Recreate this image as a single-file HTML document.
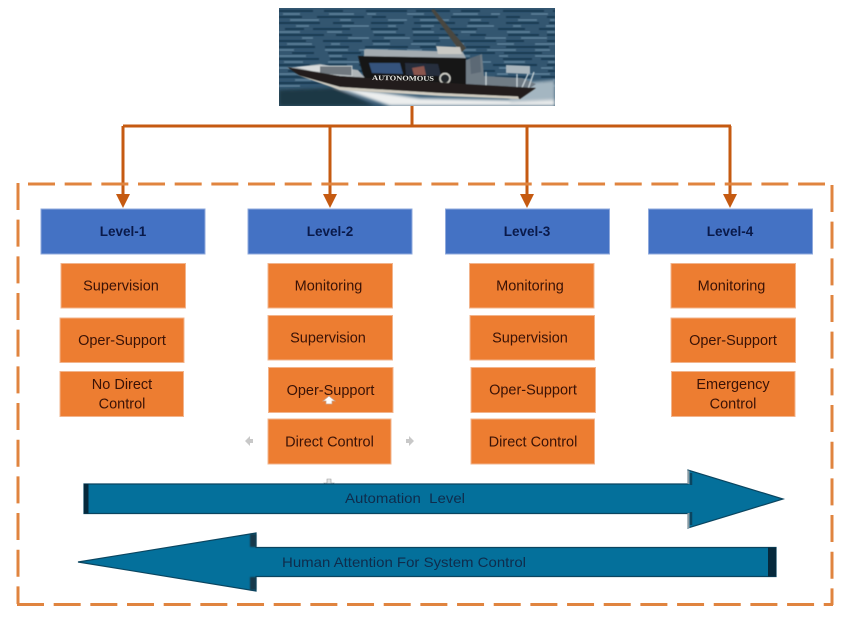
<!DOCTYPE html>
<html>
<head>
<meta charset="utf-8">
<style>
html,body{margin:0;padding:0;background:#fff;width:861px;height:622px;overflow:hidden}
svg{display:block;filter:blur(0.3px)}
text{font-family:"Liberation Sans",sans-serif}
.b{fill:#4472c4;stroke:#8fa9dc;stroke-width:1}
.o{fill:#ed7d31;stroke:#f2b48c;stroke-width:1}
.bt{font-size:13.5px;font-weight:bold;fill:#0a1a4a;text-anchor:middle}
.ot{font-size:14.5px;fill:#3a1206;text-anchor:middle}
.at{font-size:14px;fill:#0f2c4c}
.d{fill:none;stroke:#e0843f;stroke-width:3;stroke-dasharray:27 9.67}
.c{fill:none;stroke:#c55a11;stroke-width:3}
.h{fill:#c55a11}
.wd{fill:none;stroke:#15304a;stroke-width:1.500}
.wl{fill:none;stroke:#6a8ba2;stroke-width:1.200}
</style>
</head>
<body>
<svg width="861" height="622" viewBox="0 0 861 622" xmlns="http://www.w3.org/2000/svg">
<defs>
<filter id="bl" x="-5%" y="-5%" width="110%" height="110%"><feGaussianBlur stdDeviation="0.6"/></filter>
<filter id="bl1" x="-5%" y="-5%" width="110%" height="110%"><feGaussianBlur stdDeviation="0.5"/></filter>
<filter id="bl2" x="-10%" y="-10%" width="120%" height="120%"><feGaussianBlur stdDeviation="1.6"/></filter>
<filter id="bl3" x="-200%" y="-20%" width="500%" height="140%"><feGaussianBlur stdDeviation="0.9"/></filter>
<clipPath id="ph"><rect x="279" y="8" width="276" height="98"/></clipPath>
</defs>

<!-- photo -->
<g clip-path="url(#ph)">
<rect x="279" y="8" width="276" height="98" fill="#335670"/>
<g filter="url(#bl1)">
<path class="wd" stroke-dasharray="34 11 19 23 41 9" d="M279 11H555"/>
<path class="wl" stroke-dasharray="17 29 25 13 9 31" d="M283 14H555"/>
<path class="wd" stroke-dasharray="23 15 47 8 14 27" d="M279 17H555"/>
<path class="wl" stroke-dasharray="29 21 11 37 19 13" d="M290 20H555"/>
<path class="wd" stroke-dasharray="41 13 21 17 33 10" d="M279 23H555"/>
<path class="wl" stroke-dasharray="13 33 27 19 8 25" d="M296 26H555"/>
<path class="wd" stroke-dasharray="19 9 37 21 27 14" d="M285 29H555"/>
<path class="wl" stroke-dasharray="21 27 15 31 23 17" d="M279 32H555"/>
<path class="wd" stroke-dasharray="45 12 16 22 31 8" d="M279 35H555"/>
<path class="wl" stroke-dasharray="11 35 21 15 26 29" d="M302 38H555"/>
<path class="wd" stroke-dasharray="27 17 39 10 18 23" d="M279 41H555"/>
<path class="wl" stroke-dasharray="25 19 9 33 17 21" d="M287 44H555"/>
<path class="wd" stroke-dasharray="36 10 24 16 43 12" d="M279 47H555"/>
<path class="wl" stroke-dasharray="15 31 23 11 29 19" d="M279 50H555"/>
<path class="wd" stroke-dasharray="22 14 33 9 38 18" d="M292 53H555"/>
<path class="wl" stroke-dasharray="27 23 13 29 9 27" d="M279 56H555"/>
<path class="wd" stroke-dasharray="40 11 17 25 29 9" d="M279 59H555"/>
<path class="wl" stroke-dasharray="19 25 31 13 21 23" d="M284 62H555"/>
<path class="wd" stroke-dasharray="31 15 22 12 44 10" d="M279 65H555"/>
<path class="wl" stroke-dasharray="12 37 19 21 27 15" d="M279 68H555"/>
<path class="wd" stroke-dasharray="26 10 41 18 15 20" d="M288 71H555"/>
<path class="wl" stroke-dasharray="23 17 29 25 11 19" d="M279 74H555"/>
<path class="wd" stroke-dasharray="38 13 20 14 35 11" d="M279 77H555"/>
<path class="wl" stroke-dasharray="16 29 13 27 23 21" d="M295 80H555"/>
<path class="wd" stroke-dasharray="44 9 27 16 24 12" d="M279 83H555"/>
<path class="wl" stroke-dasharray="21 33 17 15 29 13" d="M279 86H555"/>
</g>
<g filter="url(#bl2)">
<path d="M332 86 L380 92 L420 98 L520 100 L555 88 L555 106 L390 106 Z" fill="#eceeee"/>
<path d="M510 84 L555 80 L555 100 L510 102 Z" fill="#a4b6c1"/>
<path d="M279 90 L335 88 L375 106 L279 106 Z" fill="#1f3945"/>
</g>
<g filter="url(#bl)">
<!-- mast -->
<path d="M431 10 L434 9 L466 48 L461 53 Z" fill="#4a4640"/>
<!-- rear deck -->
<path d="M466 60 L482 54 L484 76 L522 78 L536 84 L518 96 L466 92 Z" fill="#6f7b85"/>
<path d="M470 58 L480 55 L481 72 L471 74 Z" fill="#5c6975"/>
<path d="M506 65 L530 66 L530 74 L506 73 Z" fill="#aab6bd"/>
<path d="M486 72V90M517 74V92M528 74L520 92M534 72L527 92" stroke="#c8d2d6" stroke-width="1.300" fill="none"/>
<!-- roof gear -->
<path d="M364 50 L366 49 L433 51 L463 52 L466 58 L364 58 Z" fill="#a3abb0"/>
<path d="M436 46 L460 47 L462 54 L438 54 Z" fill="#c9c9c4"/>
<!-- cabin -->
<path d="M358 56 L466 58 L466 85 L364 78 Z" fill="#141518"/>
<path d="M369 63 L400 63 L403 74 L372 73 Z" fill="#34527c"/>
<path d="M405 63 L438 64 L441 76 L406 75 Z" fill="#252e3e"/>
<path d="M412 68 L424 66 L426 75 L414 75 Z" fill="#8a544d"/>
<circle cx="445" cy="78.500" r="5" fill="#22272b" stroke="#d8d8d0" stroke-width="1.400"/>
<!-- foredeck -->
<path d="M287 68 L320 64 L358 70 L365 78 L340 76 Z" fill="#aeb4b7"/>
<path d="M296 67 L322 65 L332 73 L312 71 Z" fill="#d8dbdc"/>
<path d="M320 66 L352 66 L352 76 L320 74" fill="#6f787f" stroke="#c3c9cc"/>
<!-- hull -->
<path d="M287 67 L340 76 L466 84 L536 88 L520 99 L440 95 L340 87 L300 76 Z" fill="#211e1b"/>
<path d="M297 75 L340 87 L440 93 L518 96.500 L519 99 L440 96 L340 90 Z" fill="#cfcbc0"/>
</g>
<text x="372" y="80" font-size="7" font-weight="bold" textLength="62" lengthAdjust="spacingAndGlyphs" style="font-family:'Liberation Serif',serif" fill="#e9e9e4" transform="rotate(0.800 372 80)">AUTONOMOUS</text>
</g>

<!-- connectors -->
<path class="c" d="M412 106V126M123 126H731M123 126V196M330 126V196M527 126V196M730 126V196"/>
<path class="h" d="M116 194H130L123 208Z"/>
<path class="h" d="M323 194H337L330 208Z"/>
<path class="h" d="M520 194H534L527 208Z"/>
<path class="h" d="M723 194H737L730 208Z"/>

<!-- dashed frame -->
<path class="d" d="M28 184H825"/>
<path class="d" d="M18 183V604"/>
<path class="d" d="M17 604.500H833"/>
<path class="d" d="M832 185V605"/>

<!-- blue headers -->
<rect class="b" x="41" y="209" width="164" height="45"/>
<rect class="b" x="248" y="209" width="164" height="45"/>
<rect class="b" x="445.500" y="209" width="164" height="45"/>
<rect class="b" x="648.500" y="209" width="164" height="45"/>
<text class="bt" x="123" y="236">Level-1</text>
<text class="bt" x="330" y="236">Level-2</text>
<text class="bt" x="527" y="236">Level-3</text>
<text class="bt" x="730" y="236">Level-4</text>

<!-- level 1 -->
<rect class="o" x="61" y="263.500" width="124.500" height="44.500"/>
<rect class="o" x="60" y="318" width="124" height="44.500"/>
<rect class="o" x="60" y="371.500" width="123.500" height="45"/>
<text class="ot" x="121" y="290.500">Supervision</text>
<text class="ot" x="122" y="345">Oper-Support</text>
<text class="ot" x="122" y="389">No Direct</text>
<text class="ot" x="122" y="408.500">Control</text>

<!-- level 2 -->
<rect class="o" x="268" y="263.500" width="124.500" height="44.500"/>
<rect class="o" x="268" y="315.500" width="124.500" height="44.500"/>
<rect class="o" x="268.500" y="367.500" width="124.500" height="45"/>
<rect class="o" x="268" y="419" width="123" height="45"/>
<text class="ot" x="328.500" y="290.500">Monitoring</text>
<text class="ot" x="328" y="342.500">Supervision</text>
<text class="ot" x="330.500" y="395">Oper-Support</text>
<text class="ot" x="329.500" y="446.500">Direct Control</text>

<!-- level 3 -->
<rect class="o" x="469.500" y="263.500" width="124.500" height="44.500"/>
<rect class="o" x="470" y="315.500" width="124.500" height="44.500"/>
<rect class="o" x="471" y="367.500" width="124.500" height="45"/>
<rect class="o" x="471" y="419" width="123.500" height="45"/>
<text class="ot" x="530" y="290.500">Monitoring</text>
<text class="ot" x="530" y="342.500">Supervision</text>
<text class="ot" x="533" y="394.500">Oper-Support</text>
<text class="ot" x="533" y="446.500">Direct Control</text>

<!-- level 4 -->
<rect class="o" x="671" y="263.500" width="124.500" height="44.500"/>
<rect class="o" x="671" y="318" width="124.500" height="44.500"/>
<rect class="o" x="671.500" y="371.500" width="123.500" height="45"/>
<text class="ot" x="731.500" y="290.500">Monitoring</text>
<text class="ot" x="733" y="345">Oper-Support</text>
<text class="ot" x="733" y="389">Emergency</text>
<text class="ot" x="733" y="408.500">Control</text>

<!-- small selection glyphs -->
<g fill="#c8c8c8">
<path d="M245 441L250 436V439H253V443H250V446Z"/>
<path d="M414 441L409 436V439H406V443H409V446Z"/>
</g>
<path d="M329 396L335 401H332V404H326V401H323Z" fill="#fff" stroke="#c9a58f" stroke-width="0.800"/>
<path d="M329 488L334 483H331V479H327V483H324Z" fill="#e4e4e4" stroke="#9a9a9a" stroke-width="0.600"/>

<!-- automation arrow -->
<path d="M84 484H688V470L783 499L688 528V513.500H84Z" fill="#04709b" stroke="#0a4560" stroke-width="1.200"/>
<rect x="84" y="484" width="4.500" height="29.500" fill="#06293c"/>
<path d="M688.500 470.500V484M688.500 513V528" stroke="#8a9aa3" stroke-width="2"/>
<path d="M691 473V485M691 512V525" stroke="#0a4560" stroke-width="2.500"/>
<text class="at" x="345" y="503" textLength="120" lengthAdjust="spacingAndGlyphs" xml:space="preserve">Automation  Level</text>

<!-- human attention arrow -->
<path d="M78 562L256 533V547.500H776V576.500H256V591Z" fill="#04709b" stroke="#0a4560" stroke-width="1.200"/>
<rect x="768" y="547.500" width="8" height="29" fill="#06293c"/>
<rect x="250" y="534" width="6" height="13" fill="#17394c" filter="url(#bl3)"/>
<rect x="250" y="577" width="6" height="13" fill="#17394c" filter="url(#bl3)"/>
<text class="at" x="282" y="567" textLength="244" lengthAdjust="spacingAndGlyphs">Human Attention For System Control</text>
</svg>
</body>
</html>
